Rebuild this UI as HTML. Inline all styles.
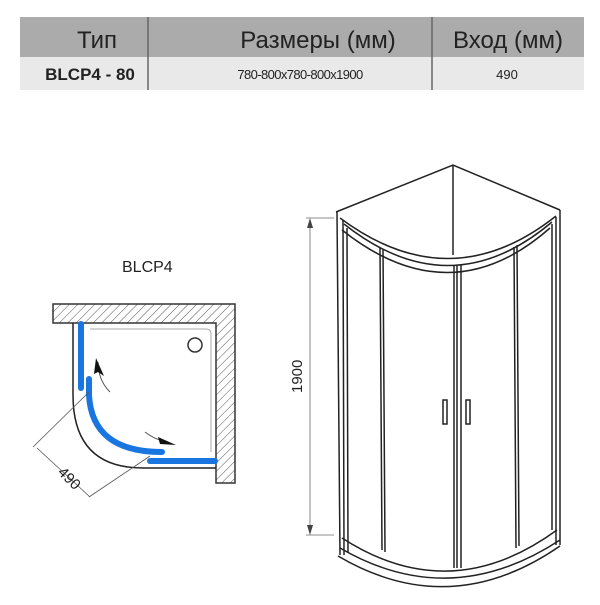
<!DOCTYPE html>
<html><head><meta charset="utf-8"><style>
body{margin:0;width:600px;height:600px;background:#fff;overflow:hidden;font-family:"Liberation Sans",sans-serif}
</style></head><body>
<svg width="600" height="600" viewBox="0 0 600 600" xmlns="http://www.w3.org/2000/svg">
<defs>
<pattern id="h" width="6" height="6" patternUnits="userSpaceOnUse" patternTransform="rotate(45)">
<line x1="0" y1="0" x2="0" y2="6" stroke="#555" stroke-width="1"/></pattern>
</defs>
<rect x="20" y="17" width="564" height="40" fill="#ababab"/>
<rect x="20" y="57" width="564" height="33" fill="#e9e9e9"/>
<line x1="148" y1="17" x2="148" y2="90" stroke="#666" stroke-width="1.5"/>
<line x1="432" y1="17" x2="432" y2="90" stroke="#666" stroke-width="1.5"/>
<text x="97" y="48" font-size="24" text-anchor="middle" fill="#222">Тип</text>
<text x="318" y="48" font-size="24" text-anchor="middle" fill="#222">Размеры (мм)</text>
<text x="508" y="48" font-size="24" text-anchor="middle" fill="#222">Вход (мм)</text>
<text x="90" y="80" font-size="17" font-weight="bold" text-anchor="middle" fill="#222">BLCP4 - 80</text>
<text x="300" y="79" font-size="13" text-anchor="middle" fill="#222" letter-spacing="-0.6">780-800x780-800x1900</text>
<text x="507" y="79" font-size="13" text-anchor="middle" fill="#222">490</text>

<text x="122" y="272" font-size="16" fill="#222">BLCP4</text>
<path d="M53,304 H235 V483 H216 V323 H53 Z" fill="url(#h)" stroke="#333" stroke-width="1.5"/>
<path d="M73,323 V395 Q73,468 143,468 H216" fill="none" stroke="#222" stroke-width="1.5"/>
<path d="M90,329 H206 Q211,329 211,334 V452" fill="none" stroke="#aaa" stroke-width="1"/>
<circle cx="195" cy="345" r="7" fill="none" stroke="#333" stroke-width="1.5"/>
<g stroke="#1976e0" stroke-width="6" stroke-linecap="round" fill="none">
<line x1="81" y1="324" x2="81" y2="388"/>
<path d="M89,379 V395 Q92,452 162,452"/>
<line x1="150" y1="461" x2="215" y2="461"/>
</g>
<path d="M110,392 Q98,380 98,362" fill="none" stroke="#555" stroke-width="1"/>
<polygon points="96,358 104,376 98,372 94,374" fill="#111"/>
<path d="M145,432 Q155,440 168,442" fill="none" stroke="#555" stroke-width="1"/>
<polygon points="176,445 158,437 160,444" fill="#111"/>
<g stroke="#555" stroke-width="0.8" fill="none">
<line x1="33" y1="447" x2="89" y2="392"/>
<line x1="89" y1="497" x2="150" y2="456"/>
<line x1="37" y1="448" x2="90" y2="497"/>
</g>
<text x="0" y="0" font-size="15" fill="#222" transform="translate(57,473) rotate(45)">490</text>

<g fill="none" stroke="#222" stroke-width="1.5">
<path d="M336,212 L453,165 L560,210"/>
<line x1="453" y1="165" x2="453" y2="255"/>
<path d="M340,218 Q450,300 556,216"/>
<path d="M344,224 Q450,308 552,222"/>
<path d="M342,230 Q450,316 550,228"/>
<line x1="337" y1="212" x2="340" y2="555"/>
<line x1="343" y1="220" x2="344" y2="555"/>
<line x1="347" y1="228" x2="348" y2="552"/>
<line x1="560" y1="210" x2="560" y2="545"/>
<line x1="556" y1="217" x2="556" y2="545"/>
<line x1="552" y1="224" x2="552" y2="530"/>
<line x1="380" y1="248" x2="382" y2="550"/>
<line x1="383" y1="249" x2="385" y2="552"/>
<line x1="514" y1="247" x2="516" y2="548"/>
<line x1="517" y1="245" x2="519" y2="546"/>
<line x1="454" y1="265" x2="454" y2="568"/>
<line x1="457" y1="265" x2="457" y2="568"/>
<line x1="461" y1="265" x2="461" y2="568"/>
<path d="M342,538 Q450,608 557,530"/>
<path d="M340,548 Q450,612 560,540"/>
<path d="M338,556 Q450,622 560,546"/>
<rect x="443" y="400" width="4" height="24"/>
<rect x="466" y="400" width="4" height="24"/>
</g>
<g stroke="#666" stroke-width="0.8">
<line x1="306" y1="218" x2="334" y2="218"/>
<line x1="306" y1="535" x2="334" y2="535"/>
<line x1="310" y1="220" x2="310" y2="533"/>
</g>
<polygon points="310,218 307,228 313,228" fill="#444"/>
<polygon points="310,535 307,525 313,525" fill="#444"/>
<text x="0" y="0" font-size="15" fill="#222" transform="translate(302,393) rotate(-90)">1900</text>
</svg>
</body></html>
